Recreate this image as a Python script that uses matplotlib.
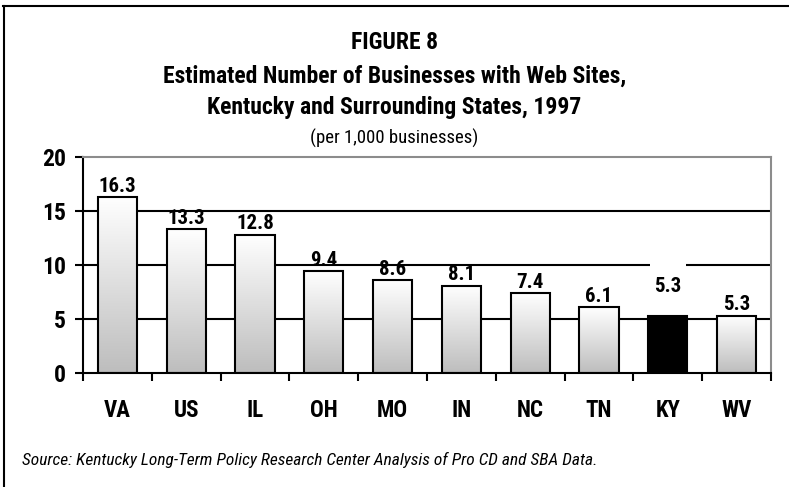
import numpy as np
import matplotlib
matplotlib.use("Agg")
import matplotlib.pyplot as plt
from matplotlib.lines import Line2D
from matplotlib.colors import LinearSegmentedColormap

categories = ["VA", "US", "IL", "OH", "MO", "IN", "NC", "TN", "KY", "WV"]
values = [16.3, 13.3, 12.8, 9.4, 8.6, 8.1, 7.4, 6.1, 5.3, 5.3]
highlight = "KY"
yticks = [0, 5, 10, 15, 20]

FONT = ["Roboto Condensed", "DejaVu Sans"]
plt.rcParams["font.family"] = FONT

fig = plt.figure(figsize=(7.89, 4.87), dpi=100)
ax = fig.add_axes([0.1052, 0.2341, 0.8720, 0.4435])

x = np.arange(len(categories))
bars = ax.bar(x, values, width=0.57, color="none", edgecolor="black",
              linewidth=1.5, zorder=3)

cmap = LinearSegmentedColormap.from_list("g", ["#bdbdbd", "#ffffff"])
grad = np.linspace(0, 1, 256).reshape(-1, 1)
for b, cat in zip(bars, categories):
    if cat == highlight:
        b.set_facecolor("black")
        continue
    bx, by, bw, bh = b.get_x(), b.get_y(), b.get_width(), b.get_height()
    im = ax.imshow(grad, cmap=cmap, aspect="auto", origin="lower",
                   extent=[bx, bx + bw, by, by + bh], zorder=2)
    im.set_clip_path(b)

ax.set_xlim(-0.5, len(categories) - 0.5)
ax.set_ylim(0, 20)
ax.set_yticks(yticks)
ax.set_yticklabels([str(v) for v in yticks], fontsize=17, fontweight="bold")
ax.set_xticks(x)
ax.set_xticklabels(categories, fontsize=16.5, fontweight="bold")
ax.set_xticks(np.arange(len(categories) + 1) - 0.5, minor=True)
ax.tick_params(axis="x", which="major", length=0, pad=19)
ax.tick_params(axis="x", which="minor", length=6, width=1.5, direction="out")
ax.tick_params(axis="y", length=6, width=1.5, pad=6)

for yv in yticks[1:-1]:
    ax.axhline(yv, color="black", linewidth=1.5, zorder=1)

for s in ["left", "bottom"]:
    ax.spines[s].set_linewidth(1.5)
    ax.spines[s].set_color("black")
for s in ["top", "right"]:
    ax.spines[s].set_linewidth(1.5)
    ax.spines[s].set_color("#8c8c8c")

for xi, v, cat in zip(x, values, categories):
    if cat == highlight:
        ax.annotate("\n" + f"{v}", (xi, v), xytext=(0, 14), textcoords="offset points",
                    ha="center", va="bottom", fontsize=15, fontweight="bold",
                    linespacing=0.75,
                    bbox=dict(boxstyle="square,pad=0.2", fc="white", ec="none"),
                    zorder=4)
    else:
        ax.annotate(f"{v}", (xi, v), xytext=(0, 1), textcoords="offset points",
                    ha="center", va="bottom", fontsize=15, fontweight="bold", zorder=4)

fig.text(0.5, 0.913, "FIGURE 8", ha="center", va="center", fontsize=17, fontweight="bold")
fig.text(0.5, 0.844, "Estimated Number of Businesses with Web Sites,", ha="center",
         va="center", fontsize=17, fontweight="bold")
fig.text(0.5, 0.780, "Kentucky and Surrounding States, 1997", ha="center",
         va="center", fontsize=17, fontweight="bold")
fig.text(0.5, 0.716, "(per 1,000 businesses)", ha="center", va="center", fontsize=13.5)

fig.text(0.028, 0.055, "Source: Kentucky Long-Term Policy Research Center Analysis of Pro CD and SBA Data.",
         ha="left", va="center", fontsize=12.5, style="italic")

fig.add_artist(Line2D([0.004, 1.0], [0.988, 0.988], transform=fig.transFigure,
                      color="black", linewidth=1.5))
fig.add_artist(Line2D([0.005, 0.005], [0.0, 0.988], transform=fig.transFigure,
                      color="black", linewidth=1.5))

fig.savefig("out.png", dpi=100)
